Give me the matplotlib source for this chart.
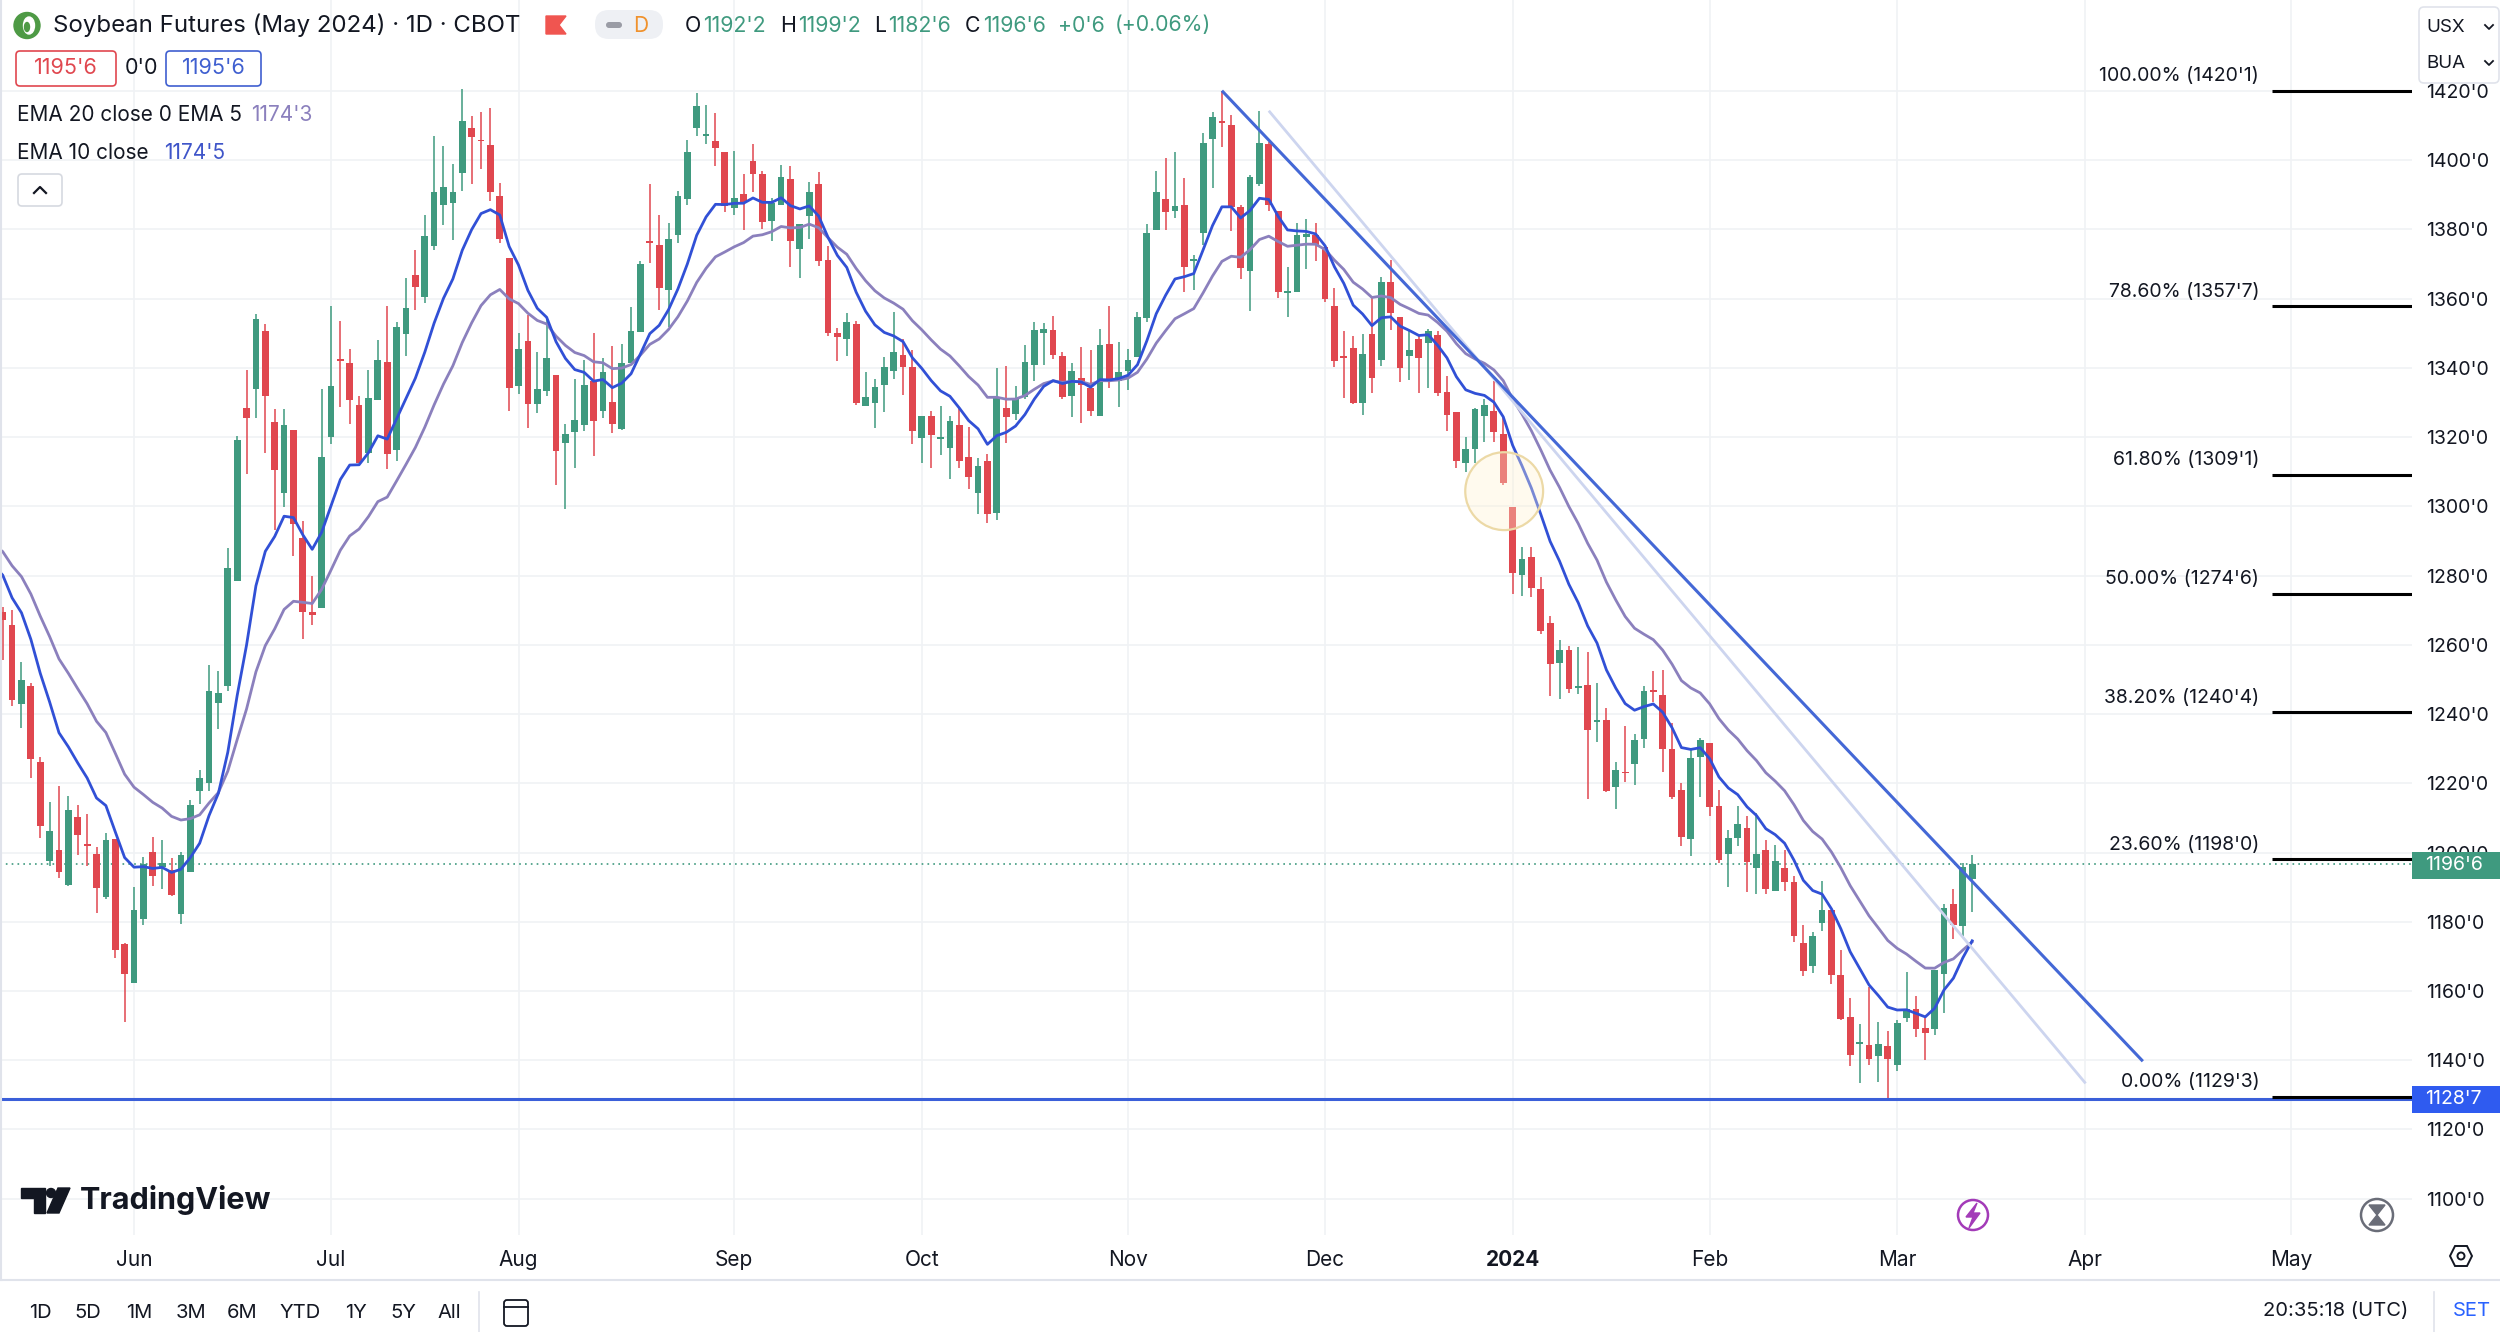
"""
Soybean futures (May 2024) daily candles with EMA 10 / EMA 20,
falling trendlines and Fibonacci retracement levels, styled like a
TradingView screenshot.  Saves out.png (2500x1332).
"""

import numpy as np
import pandas as pd
import matplotlib
matplotlib.use("Agg")
import matplotlib.pyplot as plt
from matplotlib.patches import FancyBboxPatch, Rectangle, Circle, Ellipse, Polygon
from matplotlib.lines import Line2D
from matplotlib.transforms import Affine2D

OUTPUT_FILE = "out.png"

# ---------------------------------------------------------------------------
# Data  (bar 0 = 11 May 2023, last bar = 13 Mar 2024), prices in cents
# ---------------------------------------------------------------------------
OPEN = [
    1269.6, 1265.7, 1242.9, 1248.2, 1226.2, 1197.6, 1200.8, 1190.5, 1210.3, 1202.5,
    1199.7, 1187.1, 1204.0, 1173.7, 1162.3, 1180.8, 1200.2, 1195.7, 1194.9, 1182.2,
    1194.5, 1217.9, 1220.2, 1243.1, 1248.2, 1278.5, 1328.5, 1333.9, 1350.8, 1324.5,
    1303.8, 1322.0, 1290.8, 1269.4, 1270.6, 1320.0, 1342.4, 1341.4, 1329.2, 1315.3,
    1330.8, 1341.8, 1316.2, 1349.8, 1366.8, 1360.6, 1375.3, 1387.1, 1387.6, 1396.2,
    1409.4, 1405.8, 1404.3, 1389.6, 1371.8, 1334.9, 1347.7, 1329.5, 1333.2, 1338.0,
    1318.3, 1321.4, 1323.6, 1336.1, 1327.7, 1330.3, 1322.3, 1341.4, 1350.3, 1376.6,
    1375.6, 1362.6, 1378.5, 1388.9, 1409.4, 1406.9, 1405.7, 1402.3, 1386.2, 1390.3,
    1399.7, 1395.9, 1382.4, 1387.0, 1394.6, 1374.3, 1384.0, 1393.0, 1371.1, 1350.1,
    1348.4, 1352.7, 1329.0, 1330.0, 1335.1, 1339.0, 1343.8, 1340.2, 1319.7, 1326.1,
    1319.6, 1316.8, 1323.5, 1314.2, 1304.0, 1313.1, 1298.0, 1328.5, 1326.7, 1331.7,
    1340.9, 1350.1, 1351.0, 1343.5, 1331.9, 1337.0, 1334.1, 1326.1, 1347.0, 1336.1,
    1339.0, 1343.1, 1354.4, 1379.9, 1388.9, 1385.2, 1387.2, 1370.9, 1379.0, 1406.2,
    1411.3, 1410.1, 1386.5, 1367.9, 1393.0, 1404.6, 1385.3, 1361.7, 1361.9, 1377.9,
    1378.5, 1375.0, 1357.8, 1343.1, 1345.7, 1329.8, 1349.9, 1342.4, 1364.8, 1354.7,
    1343.5, 1348.4, 1347.2, 1349.6, 1333.0, 1327.3, 1312.4, 1316.6, 1326.2, 1327.5,
    1320.8, 1299.8, 1280.3, 1285.4, 1276.1, 1266.3, 1254.7, 1258.6, 1247.6, 1248.4,
    1237.8, 1238.3, 1218.8, 1223.4, 1225.6, 1232.7, 1246.8, 1245.5, 1229.8, 1218.2,
    1203.8, 1227.7, 1231.5, 1213.4, 1199.5, 1204.3, 1207.1, 1195.6, 1200.7, 1188.8,
    1195.6, 1191.5, 1173.8, 1167.1, 1179.7, 1183.3, 1164.5, 1152.4, 1144.7, 1144.5,
    1141.1, 1144.2, 1138.5, 1152.1, 1154.9, 1149.2, 1148.9, 1164.8, 1185.1, 1178.8,
    1192.25,
]
HIGH = [
    1271.0, 1270.2, 1255.0, 1249.0, 1227.7, 1214.7, 1219.1, 1216.2, 1213.6, 1211.0,
    1201.7, 1205.7, 1204.0, 1173.9, 1190.0, 1198.7, 1204.5, 1203.7, 1198.5, 1200.2,
    1215.1, 1223.9, 1254.3, 1252.5, 1287.9, 1320.2, 1339.4, 1355.5, 1352.7, 1328.0,
    1328.0, 1322.0, 1295.9, 1279.8, 1333.8, 1357.9, 1353.5, 1345.6, 1331.8, 1339.4,
    1348.2, 1357.9, 1353.2, 1365.9, 1374.1, 1384.1, 1407.1, 1404.1, 1398.8, 1420.6,
    1412.7, 1413.9, 1415.2, 1393.3, 1371.8, 1350.1, 1355.4, 1344.5, 1354.4, 1338.0,
    1323.9, 1336.8, 1342.4, 1350.1, 1342.9, 1346.3, 1347.0, 1357.6, 1370.9, 1393.0,
    1384.3, 1381.8, 1391.1, 1405.8, 1419.3, 1415.9, 1413.7, 1402.3, 1402.6, 1395.9,
    1404.8, 1396.8, 1389.1, 1398.5, 1398.3, 1381.7, 1393.6, 1396.6, 1375.3, 1351.5,
    1355.8, 1353.7, 1338.7, 1336.7, 1343.3, 1356.3, 1348.3, 1345.2, 1326.1, 1327.7,
    1329.0, 1326.1, 1328.4, 1323.0, 1313.9, 1315.1, 1339.9, 1340.6, 1334.8, 1346.7,
    1353.4, 1353.1, 1354.9, 1344.7, 1341.4, 1346.0, 1345.2, 1351.3, 1357.8, 1347.4,
    1345.5, 1356.3, 1381.7, 1396.8, 1400.7, 1402.3, 1394.9, 1372.7, 1408.0, 1413.9,
    1420.1, 1413.2, 1387.2, 1395.6, 1414.2, 1405.2, 1385.3, 1369.2, 1381.9, 1383.1,
    1381.9, 1375.0, 1363.1, 1350.6, 1349.1, 1349.9, 1360.2, 1366.3, 1371.1, 1354.7,
    1350.6, 1349.6, 1351.2, 1350.6, 1337.8, 1327.3, 1320.1, 1328.5, 1330.9, 1336.2,
    1326.1, 1299.8, 1288.3, 1288.3, 1279.6, 1268.4, 1261.3, 1259.7, 1259.5, 1258.0,
    1248.9, 1241.7, 1226.2, 1236.6, 1234.3, 1248.0, 1252.3, 1252.6, 1237.3, 1220.0,
    1229.6, 1233.0, 1231.5, 1218.0, 1206.6, 1213.4, 1210.5, 1211.5, 1203.7, 1202.1,
    1200.8, 1193.1, 1179.0, 1177.0, 1191.8, 1183.3, 1171.7, 1158.0, 1150.5, 1161.1,
    1151.0, 1148.4, 1151.7, 1165.5, 1158.5, 1152.9, 1166.2, 1185.1, 1189.4, 1197.1,
    1199.25,
]
LOW = [
    1255.7, 1242.2, 1236.0, 1221.4, 1204.2, 1196.2, 1192.6, 1190.3, 1199.3, 1196.2,
    1182.5, 1186.5, 1169.4, 1150.9, 1162.3, 1179.1, 1190.2, 1189.6, 1187.3, 1179.3,
    1194.5, 1213.9, 1217.9, 1235.7, 1246.7, 1278.5, 1309.4, 1325.6, 1315.5, 1293.2,
    1299.8, 1285.6, 1261.8, 1265.6, 1270.6, 1317.9, 1328.8, 1323.8, 1312.4, 1312.4,
    1330.8, 1310.8, 1313.2, 1343.5, 1356.7, 1358.8, 1374.1, 1381.2, 1377.1, 1391.2,
    1393.2, 1397.5, 1388.3, 1376.1, 1327.7, 1332.5, 1322.6, 1327.0, 1332.0, 1306.3,
    1299.2, 1311.0, 1321.7, 1314.6, 1325.5, 1321.2, 1322.1, 1341.4, 1350.3, 1370.3,
    1356.6, 1351.8, 1376.1, 1387.2, 1407.0, 1404.6, 1398.3, 1385.0, 1384.3, 1379.9,
    1390.7, 1380.1, 1376.6, 1387.0, 1369.1, 1366.0, 1377.2, 1369.5, 1349.3, 1342.1,
    1343.5, 1329.3, 1329.0, 1322.6, 1327.4, 1336.7, 1332.2, 1318.0, 1312.4, 1311.0,
    1314.9, 1307.8, 1311.0, 1304.9, 1297.8, 1295.3, 1296.2, 1318.4, 1325.0, 1331.0,
    1336.1, 1340.9, 1342.5, 1331.0, 1325.7, 1324.0, 1326.0, 1326.1, 1334.1, 1328.8,
    1333.5, 1343.1, 1353.4, 1379.9, 1379.9, 1383.3, 1361.8, 1362.6, 1375.6, 1392.0,
    1403.9, 1379.5, 1365.7, 1356.4, 1392.5, 1385.3, 1360.2, 1354.7, 1361.9, 1368.6,
    1370.8, 1359.0, 1340.3, 1331.3, 1329.5, 1326.5, 1332.9, 1340.6, 1351.1, 1335.8,
    1336.6, 1332.9, 1334.2, 1331.8, 1321.7, 1311.1, 1309.9, 1312.6, 1318.5, 1318.5,
    1306.3, 1274.8, 1274.2, 1273.8, 1263.2, 1245.2, 1244.3, 1246.0, 1245.8, 1215.4,
    1232.0, 1217.6, 1212.7, 1220.5, 1219.5, 1230.1, 1243.6, 1223.4, 1215.4, 1202.0,
    1198.9, 1216.1, 1210.5, 1197.0, 1189.9, 1201.8, 1188.6, 1188.1, 1188.1, 1188.8,
    1188.9, 1174.1, 1164.2, 1165.2, 1177.3, 1162.1, 1151.7, 1138.2, 1133.3, 1138.5,
    1133.6, 1128.9, 1137.0, 1151.0, 1146.8, 1140.2, 1147.2, 1153.7, 1175.1, 1175.9,
    1182.75,
]
CLOSE = [
    1267.3, 1244.0, 1249.9, 1227.1, 1207.7, 1206.2, 1194.5, 1212.2, 1205.0, 1202.0,
    1189.7, 1203.7, 1171.9, 1165.0, 1183.3, 1196.6, 1193.1, 1197.1, 1187.7, 1199.3,
    1213.6, 1221.4, 1246.7, 1246.2, 1282.2, 1319.1, 1325.6, 1354.1, 1331.8, 1310.6,
    1323.5, 1295.0, 1269.4, 1268.7, 1314.4, 1334.7, 1342.0, 1330.8, 1312.4, 1331.2,
    1342.4, 1315.1, 1351.8, 1357.4, 1363.5, 1378.2, 1390.9, 1392.4, 1390.9, 1411.2,
    1406.8, 1405.5, 1390.8, 1377.3, 1334.2, 1345.5, 1329.5, 1333.9, 1342.9, 1315.9,
    1321.0, 1325.0, 1335.1, 1324.8, 1338.7, 1323.8, 1341.4, 1350.6, 1369.9, 1376.2,
    1363.1, 1377.3, 1389.8, 1402.4, 1415.7, 1407.5, 1403.6, 1386.9, 1389.1, 1387.8,
    1395.9, 1382.2, 1387.7, 1395.2, 1376.6, 1381.7, 1390.7, 1370.8, 1350.1, 1348.9,
    1353.4, 1329.8, 1331.7, 1334.6, 1340.4, 1344.7, 1340.2, 1321.9, 1326.1, 1320.6,
    1319.9, 1324.8, 1313.2, 1308.4, 1311.7, 1297.8, 1331.7, 1325.7, 1331.4, 1341.6,
    1351.0, 1351.2, 1343.8, 1331.7, 1339.0, 1335.1, 1327.7, 1346.5, 1336.1, 1338.7,
    1342.3, 1354.6, 1379.0, 1390.8, 1385.0, 1386.9, 1369.3, 1371.3, 1405.1, 1412.6,
    1410.9, 1386.5, 1368.9, 1395.2, 1404.9, 1387.2, 1361.9, 1362.1, 1378.3, 1378.8,
    1375.4, 1359.9, 1341.9, 1342.9, 1329.8, 1344.1, 1337.1, 1364.8, 1355.9, 1340.0,
    1345.1, 1342.9, 1350.6, 1332.9, 1326.5, 1313.0, 1316.6, 1328.0, 1329.4, 1321.4,
    1306.8, 1280.7, 1284.9, 1276.4, 1263.9, 1254.5, 1258.6, 1247.2, 1248.2, 1235.4,
    1238.2, 1217.9, 1223.8, 1222.9, 1232.5, 1246.8, 1246.4, 1229.8, 1215.9, 1204.5,
    1227.4, 1232.5, 1213.2, 1197.8, 1204.3, 1208.1, 1197.3, 1199.5, 1189.6, 1197.5,
    1191.5, 1175.8, 1165.7, 1175.8, 1183.3, 1164.5, 1152.0, 1141.4, 1145.0, 1140.4,
    1144.7, 1140.4, 1150.7, 1154.9, 1148.9, 1147.9, 1166.2, 1184.1, 1179.0, 1195.9,
    1196.75,
]

# EMA values on the bar before the first visible one
EMA10_SEED = 1283.0
EMA20_SEED = 1289.0

# month tick positions (bar index of first trading day) and labels
MONTH_POS    = [14, 35, 55, 78, 98, 120, 141, 161, 182, 202, 222, 244]
MONTH_LABELS = ["Jun", "Jul", "Aug", "Sep", "Oct", "Nov", "Dec", "2024",
                "Feb", "Mar", "Apr", "May"]

PRICE_TICKS = list(range(1100, 1421, 20))

# Fibonacci retracement
FIB_PRICES = [1420.125, 1357.875, 1309.125, 1274.75, 1240.5, 1198.0, 1129.375]
FIB_LABELS = ["100.00% (1420'1)", "78.60% (1357'7)", "61.80% (1309'1)",
              "50.00% (1274'6)", "38.20% (1240'4)", "23.60% (1198'0)",
              "0.00% (1129'3)"]

# drawn trendlines: (bar, price) end points
TREND_MAIN  = [(130, 1420.1), (228.2, 1139.7)]
TREND_LIGHT = [(135, 1414.3), (222.1, 1133.3)]

LAST_PRICE = 1196.75
LOW_LINE   = 1128.875
HIGHLIGHT  = (160.1, 1304.4)

# ---------------------------------------------------------------------------
# Style
# ---------------------------------------------------------------------------
GREEN  = "#3f9a7f"
RED    = "#e0474f"
BLUE   = "#3150d6"
PURPLE = "#8b80bd"
TREND  = "#4468d6"
TEXT   = "#131722"
GRID   = "#f0f2f5"

W, H = 2500, 1332
plt.rcParams["font.family"] = ["Inter", "DejaVu Sans"]

fig = plt.figure(figsize=(W / 100, H / 100), dpi=100)
fig.patch.set_facecolor("white")
# pixel transform: x right, y down, origin top-left
PX = Affine2D().scale(1 / W, -1 / H).translate(0, 1) + fig.transFigure


def ptext(x, y, s, **kw):
    kw.setdefault("color", TEXT)
    kw.setdefault("va", "center")
    return fig.text(x, y, s, transform=PX, **kw)


def padd(p):
    p.set_transform(PX)
    fig.add_artist(p)
    return p


PLOT_R, PLOT_B = 2412, 1235
ax = fig.add_axes([0, 1 - PLOT_B / H, PLOT_R / W, PLOT_B / H])
ax.set_xlim(-0.29, 256.9)
ax.set_ylim(1089.5, 1446.3)
for s in ax.spines.values():
    s.set_visible(False)

ax.set_xticks(MONTH_POS)
ax.set_xticklabels(MONTH_LABELS)
ax.set_yticks(PRICE_TICKS)
ax.set_yticklabels([f"{p}'0" for p in PRICE_TICKS])
ax.yaxis.tick_right()
ax.tick_params(axis="both", length=0, colors=TEXT, labelsize=14)
ax.tick_params(axis="y", pad=10)
ax.tick_params(axis="x", pad=11, labelsize=15)
for lab in ax.get_xticklabels():
    if lab.get_text() == "2024":
        lab.set_fontweight("bold")
ax.grid(True, color=GRID, linewidth=1.2, zorder=0)
ax.set_axisbelow(True)

# --- candles ---------------------------------------------------------------
o = np.array(OPEN); h = np.array(HIGH); l = np.array(LOW); c = np.array(CLOSE)
idx = np.arange(len(c))
col = np.where(c >= o, GREEN, RED)
ax.vlines(idx, l, h, colors=col, linewidth=1.1, zorder=3)
ax.bar(idx, np.maximum(np.abs(c - o), 0.45), bottom=np.minimum(o, c),
       width=0.72, color=col, linewidth=0, zorder=4)

# --- EMAs ------------------------------------------------------------------
def ema(values, span, seed):
    s = pd.Series([seed] + list(values))
    return s.ewm(span=span, adjust=False).mean().values

xe = np.arange(-1, len(c))
ax.plot(xe, ema(CLOSE, 20, EMA20_SEED), color=PURPLE, lw=2.0, zorder=5)
ax.plot(xe, ema(CLOSE, 10, EMA10_SEED), color=BLUE, lw=2.0, zorder=5)

# --- drawings --------------------------------------------------------------
ax.plot(*zip(*TREND_LIGHT), color="#cdd5ef", lw=2.0, zorder=5,
        solid_capstyle="butt")
ax.plot(*zip(*TREND_MAIN), color=TREND, lw=2.2, zorder=5,
        solid_capstyle="butt")
ax.axhline(LOW_LINE, color="#3b5fd9", lw=2.2, zorder=5)
ax.axhline(LAST_PRICE, color=GREEN, lw=1.2, ls=(0, (1, 2.5)), zorder=2)
ax.add_patch(Ellipse(HIGHLIGHT, width=8.3, height=22.5,
                     facecolor=(1.0, 0.95, 0.82, 0.35),
                     edgecolor="#ecd9a6", lw=1.6, zorder=6))

ax.hlines(FIB_PRICES, 242.0, 257.5, colors="black", lw=2.2, zorder=6)
for p, lab in zip(FIB_PRICES, FIB_LABELS):
    ax.annotate(lab, (240.6, p), xytext=(0, 4), textcoords="offset points",
                ha="right", va="bottom", fontsize=14, color=TEXT, zorder=7)

# ---------------------------------------------------------------------------
# Chrome around the chart
# ---------------------------------------------------------------------------
# pane borders
fig.add_artist(Line2D([0, W], [1280, 1280], transform=PX, color="#e0e3eb", lw=1.5))
fig.add_artist(Line2D([1, 1], [0, 1280], transform=PX, color="#e0e3eb", lw=1.5))

# symbol logo + title
padd(Circle((27, 25.5), 13, color="#4e9a45"))
padd(Ellipse((29, 25.5), 11, 17, color="white"))
padd(Ellipse((27, 27), 5, 9, color="#4e9a45"))
ptext(53, 25.5, "Soybean Futures (May 2024) · 1D · CBOT", fontsize=17.3)
padd(Polygon([(546, 16), (566, 16), (559, 25), (566, 34), (546, 34)],
             color="#f05550"))
padd(FancyBboxPatch((595, 10), 68, 29, boxstyle="round,pad=0,rounding_size=14",
                    facecolor="#eef0f4", edgecolor="none"))
padd(FancyBboxPatch((606, 22), 16, 6, boxstyle="round,pad=0,rounding_size=3",
                    facecolor="#9a9ca5", edgecolor="none"))
ptext(641, 25.5, "D", fontsize=15, color="#f0922d", ha="center")

# OHLC row, placed piece by piece
renderer = fig.canvas.get_renderer()
x = 685
pieces = [("O", TEXT, 0), ("1192'2", GREEN, 12), ("H", TEXT, 0),
          ("1199'2", GREEN, 12), ("L", TEXT, 0), ("1182'6", GREEN, 12),
          ("C", TEXT, 0), ("1196'6", GREEN, 10), ("+0'6", GREEN, 8),
          ("(+0.06%)", GREEN, 0)]
for s, colr, gap in pieces:
    t = ptext(x, 25.5, s, fontsize=15.3, color=colr)
    x += t.get_window_extent(renderer).width + gap + 2

# price boxes row
padd(FancyBboxPatch((16, 51), 100, 35, boxstyle="round,pad=0,rounding_size=4",
                    facecolor="white", edgecolor=RED, lw=1.2))
ptext(66, 68.5, "1195'6", fontsize=15.5, color=RED, ha="center")
ptext(141, 68.5, "0'0", fontsize=15.5, ha="center")
padd(FancyBboxPatch((166, 51), 95, 35, boxstyle="round,pad=0,rounding_size=4",
                    facecolor="white", edgecolor="#3f5fd0", lw=1.2))
ptext(213.5, 68.5, "1195'6", fontsize=15.5, color="#3f5fd0", ha="center")

# indicator legends
ptext(17, 115, "EMA 20 close 0 EMA 5", fontsize=15)
ptext(251, 115, "1174'3", fontsize=15, color=PURPLE)
ptext(17, 153, "EMA 10 close", fontsize=15)
ptext(164, 153, "1174'5", fontsize=15, color="#3f55c9")
padd(FancyBboxPatch((18, 174), 44, 32, boxstyle="round,pad=0,rounding_size=4",
                    facecolor="white", edgecolor="#d6d9e0", lw=1.2))
fig.add_artist(Line2D([34, 40, 46], [193, 187, 193], transform=PX,
                      color=TEXT, lw=1.6))

# symbol / unit selector top right
padd(FancyBboxPatch((2419, 7), 80, 76, boxstyle="round,pad=0,rounding_size=5",
                    facecolor="white", edgecolor="#e0e3eb", lw=1.2, zorder=5))
ptext(2426, 27, "USX", fontsize=13.5, zorder=6)
ptext(2426, 63, "BUA", fontsize=13.5, zorder=6)
for yy in (27, 63):
    fig.add_artist(Line2D([2485, 2489, 2493], [yy - 2, yy + 2, yy - 2],
                          transform=PX, color=TEXT, lw=1.3, zorder=6))

# last price / low labels on price scale
padd(Rectangle((2412, 852), 88, 27, facecolor=GREEN, edgecolor="none", zorder=5))
ptext(2425, 865.5, "1196'6", fontsize=14, color="white", zorder=6)
padd(Rectangle((2412, 1086), 88, 27, facecolor="#2f5bf0", edgecolor="none", zorder=5))
ptext(2425, 1099.5, "1128'7", fontsize=14, color="white", zorder=6)

# TradingView watermark
padd(Polygon([(21, 1188), (45, 1188), (45, 1213), (34, 1213), (34, 1198), (21, 1198)],
             color=TEXT))
padd(Circle((51, 1193), 4.5, color=TEXT))
padd(Polygon([(58, 1188), (70, 1188), (59, 1213), (47, 1213)], color=TEXT))
ptext(80, 1200, "TradingView", fontsize=22, fontweight="bold")

# small icons on the chart
padd(Circle((1973, 1215), 15, facecolor="white", edgecolor="#a33bb8", lw=1.8))
padd(Polygon([(1977, 1203), (1966, 1217), (1973, 1217), (1969, 1228),
              (1980, 1213), (1973, 1213)], color="#a33bb8"))
padd(Circle((2377, 1215), 16, facecolor="white", edgecolor="#6a6d78", lw=1.8))
padd(Polygon([(2369, 1205), (2385, 1205), (2377, 1215)], color="#6a6d78"))
padd(Polygon([(2369, 1225), (2385, 1225), (2377, 1215)], color="#6a6d78"))
padd(Polygon([(2450, 1256), (2455, 1246), (2467, 1246), (2472, 1256),
              (2467, 1266), (2455, 1266)], facecolor="none",
             edgecolor=TEXT, lw=1.4))
padd(Circle((2461, 1256), 3.5, facecolor="none", edgecolor=TEXT, lw=1.4))

# bottom toolbar
for s, xx in zip(["1D", "5D", "1M", "3M", "6M", "YTD", "1Y", "5Y", "All"],
                 [40, 88, 139, 191, 242, 300, 356, 403, 449]):
    ptext(xx, 1313, s, fontsize=14.5, ha="center")
fig.add_artist(Line2D([479, 479], [1292, 1332], transform=PX, color="#e0e3eb", lw=1.2))
padd(FancyBboxPatch((504, 1300), 24, 26, boxstyle="round,pad=0,rounding_size=3",
                    facecolor="none", edgecolor=TEXT, lw=1.3))
fig.add_artist(Line2D([504, 528], [1307, 1307], transform=PX, color=TEXT, lw=1.3))
ptext(2336, 1311, "20:35:18 (UTC)", fontsize=14.5, ha="center")
fig.add_artist(Line2D([2434, 2434], [1292, 1332], transform=PX, color="#e0e3eb", lw=1.2))
ptext(2472, 1311, "SET", fontsize=14.5, ha="center", color="#2962ff")

fig.savefig(OUTPUT_FILE, dpi=100, facecolor="white")
